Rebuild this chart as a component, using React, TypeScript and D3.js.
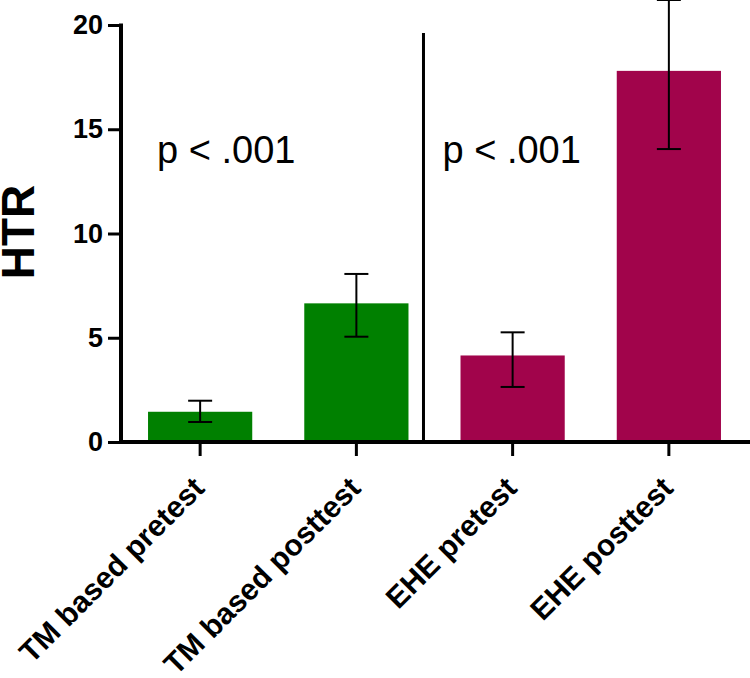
import { useEffect, useRef } from 'react';
import * as d3 from 'd3';

const categories = ['TM based pretest', 'TM based posttest', 'EHE pretest', 'EHE posttest'];
const means = [1.45, 6.65, 4.15, 17.8];
const errLow = [0.96, 5.05, 2.64, 14.05];
const errHigh = [1.98, 8.06, 5.26, 21.2];
const groups = ['tm', 'tm', 'ehe', 'ehe'];
const yTicks = [0, 5, 10, 15, 20];
const pLabels = ['p < .001', 'p < .001'];

const W = 750, H = 678;
const X0 = 121, X1 = 748, Y0 = 442, Y20 = 25;
const COLORS: Record<string, string> = { tm: '#008000', ehe: '#A1044B' };
const FONT = 'Liberation Sans, Arial, sans-serif';

export default function App() {
  const svgRef = useRef<SVGSVGElement>(null);

  useEffect(() => {
    const svg = d3.select(svgRef.current);
    svg.selectAll('*').remove();

    const x = d3.scaleBand<string>()
      .domain(categories)
      .range([X0, X1])
      .paddingInner(0.333)
      .paddingOuter(0.173);

    const y = d3.scaleLinear().domain([0, 20]).range([Y0, Y20]);

    const data = categories.map((c, i) => ({
      c, v: means[i], lo: errLow[i], hi: errHigh[i], g: groups[i],
    }));

    // Bars
    svg.append('g')
      .selectAll('rect')
      .data(data)
      .join('rect')
      .attr('x', (d) => x(d.c)!)
      .attr('y', (d) => y(d.v))
      .attr('width', x.bandwidth())
      .attr('height', (d) => y(0) - y(d.v))
      .attr('fill', (d) => COLORS[d.g]);

    // Error bars
    const eb = svg.append('g').attr('stroke', '#000').attr('stroke-width', 2);
    data.forEach((d) => {
      const cx = x(d.c)! + x.bandwidth() / 2;
      eb.append('line').attr('x1', cx).attr('x2', cx).attr('y1', y(d.lo)).attr('y2', y(d.hi));
      eb.append('line').attr('x1', cx - 12).attr('x2', cx + 12).attr('y1', y(d.lo)).attr('y2', y(d.lo));
      eb.append('line').attr('x1', cx - 12).attr('x2', cx + 12).attr('y1', y(d.hi)).attr('y2', y(d.hi));
    });

    // Y axis
    const ya = svg.append('g')
      .attr('transform', `translate(${X0},0)`)
      .call(d3.axisLeft(y).tickValues(yTicks).tickSize(13).tickPadding(5).tickSizeOuter(0));
    ya.select('.domain').attr('stroke-width', 4).attr('d', `M0,${Y20 - 1.5}V${Y0 + 2}`);
    ya.selectAll('line').attr('stroke-width', 3);
    ya.selectAll('text')
      .attr('font-family', FONT)
      .attr('font-weight', 700)
      .attr('font-size', 27)
      .attr('fill', '#000');

    // X axis
    const xa = svg.append('g')
      .attr('transform', `translate(0,${Y0})`)
      .call(d3.axisBottom(x).tickSize(14).tickSizeOuter(0).tickPadding(4));
    xa.select('.domain').attr('stroke-width', 4).attr('d', `M${X0},0H${W}`);
    xa.selectAll('line').attr('stroke-width', 3);
    xa.selectAll('text')
      .attr('font-family', FONT)
      .attr('font-weight', 700)
      .attr('font-size', 30)
      .attr('fill', '#000')
      .attr('text-anchor', 'end')
      .attr('dy', null)
      .attr('y', null)
      .attr('transform', 'translate(6,48) rotate(-45)');

    // Group separator
    const sepX = x(categories[1])! + x.bandwidth() + 15;
    svg.append('line')
      .attr('x1', sepX).attr('x2', sepX)
      .attr('y1', 33).attr('y2', y(0) - 2)
      .attr('stroke', '#000').attr('stroke-width', 3);

    // p labels
    svg.selectAll('.plabel')
      .data(pLabels)
      .join('text')
      .attr('class', 'plabel')
      .attr('x', (_, i) => (i === 0 ? x(categories[0])! + 9 : sepX + 19))
      .attr('y', 163)
      .attr('font-family', FONT)
      .attr('font-size', 38)
      .attr('fill', '#000')
      .text((d) => d);

    // Y title
    svg.append('text')
      .attr('transform', `translate(34,232) rotate(-90)`)
      .attr('text-anchor', 'middle')
      .attr('font-family', FONT)
      .attr('font-weight', 700)
      .attr('font-size', 46)
      .attr('fill', '#000')
      .text('HTR');
  }, []);

  return (
    <svg
      ref={svgRef}
      width={W}
      height={H}
      viewBox={`0 0 ${W} ${H}`}
      style={{ position: 'absolute', left: 0, top: 0, background: '#fff' }}
    />
  );
}
